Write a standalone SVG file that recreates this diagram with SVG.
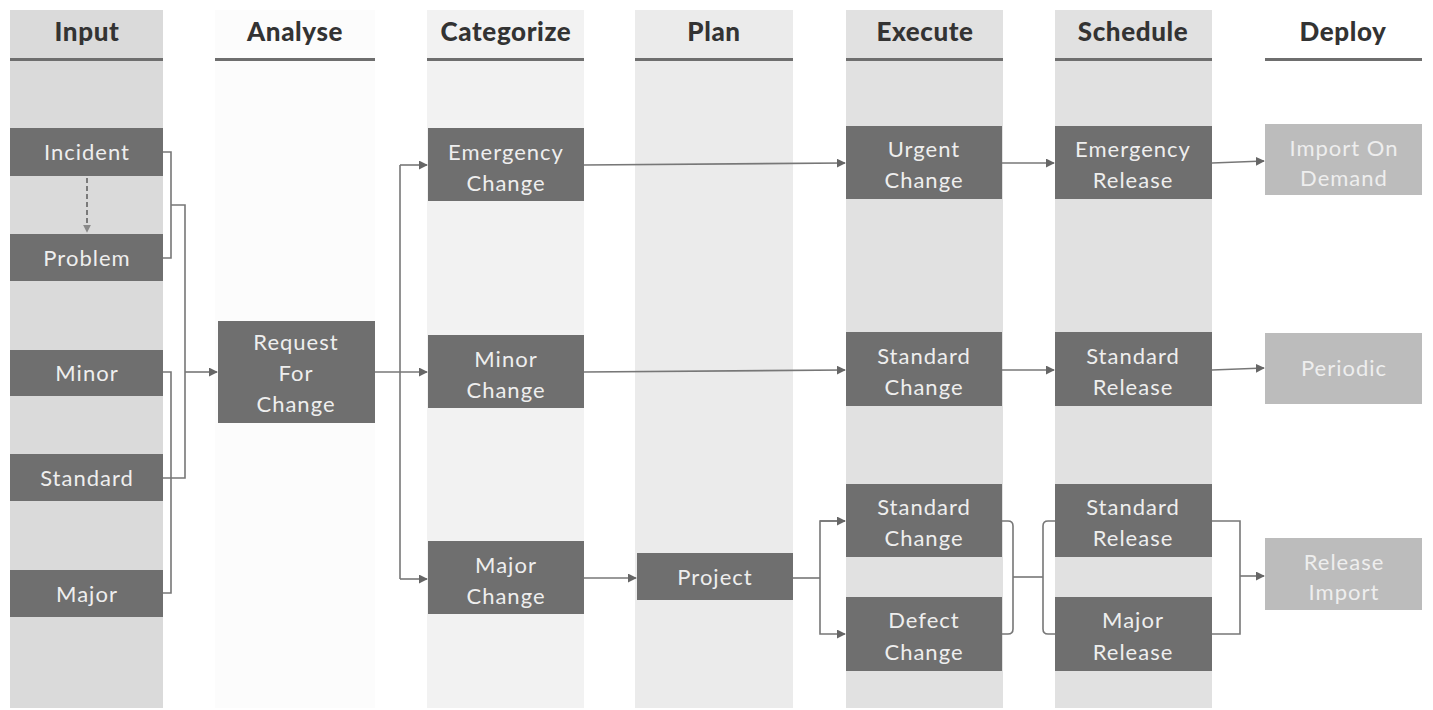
<svg xmlns="http://www.w3.org/2000/svg" width="1433" height="710" viewBox="0 0 1433 710">
  <defs>
    <marker id="arrow" viewBox="0 0 10 10" refX="9" refY="5" markerWidth="9" markerHeight="9" markerUnits="userSpaceOnUse" orient="auto">
      <path d="M0,0 L10,5 L0,10 Z" fill="#666"/>
    </marker>
    <marker id="arrowDash" viewBox="0 0 10 10" refX="9" refY="5" markerWidth="8" markerHeight="8" markerUnits="userSpaceOnUse" orient="auto">
      <path d="M0,0 L10,5 L0,10 Z" fill="#8a8a8a"/>
    </marker>
  </defs>
  <style>
    .head { font-family: Lato, "Liberation Sans", sans-serif; font-weight: 900; font-size: 26px; letter-spacing: 0.6px; fill: #333333; text-anchor: middle; }
    .bar { fill: #6e6e6e; }
    .node { fill: #6f6f6f; }
    .node-light { fill: #bcbcbc; }
    .label { font-family: Lato, "Liberation Sans", sans-serif; font-size: 22px; letter-spacing: 1px; fill: #eeeeee; text-anchor: middle; }
    .conn { fill: none; stroke: #777; stroke-width: 1.6; }
  </style>

  <rect width="1433" height="710" fill="#ffffff"/>

  <!-- swimlane backgrounds -->
  <g id="lanes">
    <rect x="10" y="10" width="153" height="698" fill="#dadada"/>
    <rect x="215" y="10" width="160" height="698" fill="#fcfcfc"/>
    <rect x="427" y="10" width="157" height="698" fill="#f2f2f2"/>
    <rect x="635" y="10" width="158" height="698" fill="#ebebeb"/>
    <rect x="846" y="10" width="157" height="698" fill="#e1e1e1"/>
    <rect x="1055" y="10" width="157" height="698" fill="#e1e1e1"/>
  </g>

  <!-- column headings -->
  <g id="headers">
    <text class="head" x="87" y="41">Input</text>
    <rect class="bar" x="10" y="58" width="153" height="3"/>
    <text class="head" x="295" y="41">Analyse</text>
    <rect class="bar" x="215" y="58" width="160" height="3"/>
    <text class="head" x="506" y="41">Categorize</text>
    <rect class="bar" x="427" y="58" width="157" height="3"/>
    <text class="head" x="714" y="41">Plan</text>
    <rect class="bar" x="635" y="58" width="158" height="3"/>
    <text class="head" x="925" y="41">Execute</text>
    <rect class="bar" x="846" y="58" width="157" height="3"/>
    <text class="head" x="1133" y="41">Schedule</text>
    <rect class="bar" x="1055" y="58" width="157" height="3"/>
    <text class="head" x="1343" y="41">Deploy</text>
    <rect class="bar" x="1265" y="58" width="157" height="3" fill="#444"/>
  </g>

  <!-- connectors -->
  <g id="connectors">
    <!-- incident to problem -->
    <line x1="87" y1="178" x2="87" y2="232" stroke="#7a7a7a" stroke-width="2" stroke-dasharray="5,3" marker-end="url(#arrowDash)"/>
    <!-- input brackets -->
    <path class="conn" d="M163,152 H171 V258 H163"/>
    <path class="conn" d="M171,205 H185 V478 H163"/>
    <path class="conn" d="M163,372 H171 V593 H163"/>
    <path class="conn" d="M185,372 H217" marker-end="url(#arrow)"/>
    <!-- request for change fan-out -->
    <path class="conn" d="M375,372 H427" marker-end="url(#arrow)"/>
    <path class="conn" d="M400,165 V579"/>
    <path class="conn" d="M400,165 H427" marker-end="url(#arrow)"/>
    <path class="conn" d="M400,579 H427" marker-end="url(#arrow)"/>
    <!-- categorize to execute / plan -->
    <path class="conn" d="M584,165 L845,163" marker-end="url(#arrow)"/>
    <path class="conn" d="M584,372 L845,370" marker-end="url(#arrow)"/>
    <path class="conn" d="M584,578 H636" marker-end="url(#arrow)"/>
    <!-- project fan-out -->
    <path class="conn" d="M793,578 H820"/>
    <path class="conn" d="M845,521 H820 V634 H845" marker-end="url(#arrow)"/>
    <path class="conn" d="M820,521 H845" marker-end="url(#arrow)"/>
    <!-- execute to schedule -->
    <path class="conn" d="M1002,163 H1054" marker-end="url(#arrow)"/>
    <path class="conn" d="M1002,370 H1054" marker-end="url(#arrow)"/>
    <path class="conn" d="M1002,521 H1008 Q1013,521 1013,526 V629 Q1013,634 1008,634 H1002"/>
    <path class="conn" d="M1013,577 H1043"/>
    <path class="conn" d="M1055,521 H1048 Q1043,521 1043,526 V629 Q1043,634 1048,634 H1055"/>
    <!-- schedule to deploy -->
    <path class="conn" d="M1212,163 L1264,161" marker-end="url(#arrow)"/>
    <path class="conn" d="M1212,370 L1264,368" marker-end="url(#arrow)"/>
    <path class="conn" d="M1212,521 H1240 V634 H1212"/>
    <path class="conn" d="M1240,576 H1264" marker-end="url(#arrow)"/>
  </g>

  <!-- input -->
  <g id="incident"><rect class="node" x="10" y="128" width="153" height="48"/><text class="label" x="87" y="160">Incident</text></g>
  <g id="problem"><rect class="node" x="10" y="234" width="153" height="47"/><text class="label" x="87" y="266">Problem</text></g>
  <g id="minor"><rect class="node" x="10" y="350" width="153" height="46"/><text class="label" x="87" y="381">Minor</text></g>
  <g id="standard"><rect class="node" x="10" y="454" width="153" height="47"/><text class="label" x="87" y="486">Standard</text></g>
  <g id="major"><rect class="node" x="10" y="570" width="153" height="47"/><text class="label" x="87" y="602">Major</text></g>

  <!-- analyse -->
  <g id="request-for-change"><rect class="node" x="218" y="321" width="157" height="102"/>
    <text class="label" x="296" y="350">Request</text><text class="label" x="296" y="381">For</text><text class="label" x="296" y="412">Change</text></g>

  <!-- categorize -->
  <g id="emergency-change"><rect class="node" x="428" y="128" width="156" height="73"/>
    <text class="label" x="506" y="160">Emergency</text><text class="label" x="506" y="191">Change</text></g>
  <g id="minor-change"><rect class="node" x="428" y="335" width="156" height="73"/>
    <text class="label" x="506" y="367">Minor</text><text class="label" x="506" y="398">Change</text></g>
  <g id="major-change"><rect class="node" x="428" y="541" width="156" height="73"/>
    <text class="label" x="506" y="573">Major</text><text class="label" x="506" y="604">Change</text></g>

  <!-- plan -->
  <g id="project"><rect class="node" x="637" y="553" width="156" height="47"/><text class="label" x="715" y="585">Project</text></g>

  <!-- execute -->
  <g id="urgent-change"><rect class="node" x="846" y="126" width="156" height="73"/>
    <text class="label" x="924" y="157">Urgent</text><text class="label" x="924" y="188">Change</text></g>
  <g id="standard-change-1"><rect class="node" x="846" y="332" width="156" height="74"/>
    <text class="label" x="924" y="364">Standard</text><text class="label" x="924" y="395">Change</text></g>
  <g id="standard-change-2"><rect class="node" x="846" y="484" width="156" height="73"/>
    <text class="label" x="924" y="515">Standard</text><text class="label" x="924" y="546">Change</text></g>
  <g id="defect-change"><rect class="node" x="846" y="597" width="156" height="74"/>
    <text class="label" x="924" y="628">Defect</text><text class="label" x="924" y="660">Change</text></g>

  <!-- schedule -->
  <g id="emergency-release"><rect class="node" x="1055" y="126" width="157" height="73"/>
    <text class="label" x="1133" y="157">Emergency</text><text class="label" x="1133" y="188">Release</text></g>
  <g id="standard-release-1"><rect class="node" x="1055" y="332" width="157" height="74"/>
    <text class="label" x="1133" y="364">Standard</text><text class="label" x="1133" y="395">Release</text></g>
  <g id="standard-release-2"><rect class="node" x="1055" y="484" width="157" height="73"/>
    <text class="label" x="1133" y="515">Standard</text><text class="label" x="1133" y="546">Release</text></g>
  <g id="major-release"><rect class="node" x="1055" y="597" width="157" height="74"/>
    <text class="label" x="1133" y="628">Major</text><text class="label" x="1133" y="660">Release</text></g>

  <!-- deploy -->
  <g id="import-on-demand"><rect class="node-light" x="1265" y="124" width="157" height="71"/>
    <text class="label" x="1344" y="156">Import On</text><text class="label" x="1344" y="186">Demand</text></g>
  <g id="periodic"><rect class="node-light" x="1265" y="333" width="157" height="71"/>
    <text class="label" x="1344" y="376">Periodic</text></g>
  <g id="release-import"><rect class="node-light" x="1265" y="538" width="157" height="72"/>
    <text class="label" x="1344" y="570">Release</text><text class="label" x="1344" y="600">Import</text></g>
</svg>
